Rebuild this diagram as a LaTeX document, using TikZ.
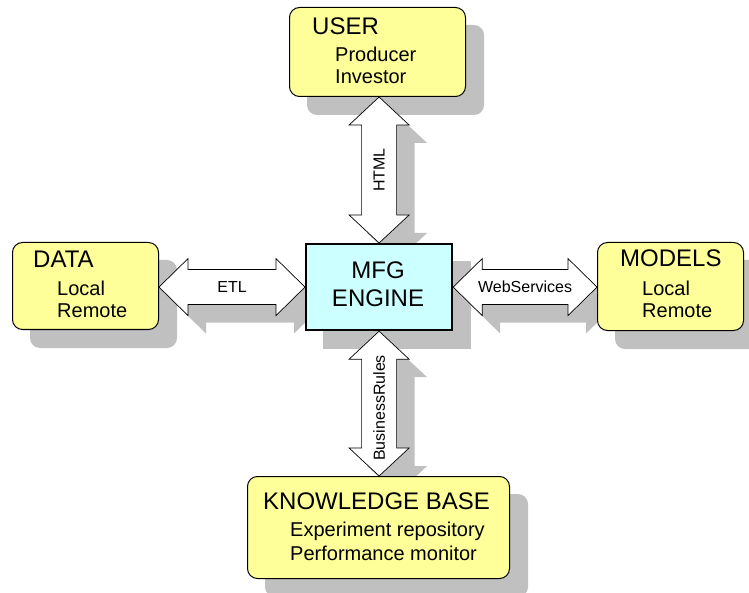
\documentclass[tikz,border=0pt]{standalone}
\usepackage{fontspec}
\setmainfont{Liberation Sans}
\usetikzlibrary{calc}
\pgfdeclarelayer{background}
\pgfsetlayers{background,main}
\definecolor{boxyellow}{HTML}{FFFF99}
\definecolor{enginecyan}{HTML}{CCFFFF}
\definecolor{shadowgray}{HTML}{C0C0C0}
\tikzset{
  box/.style={draw=black, line width=1pt, fill=boxyellow, rounded corners=10pt, inner sep=0pt, anchor=north west},
  engine/.style={draw=black, line width=2.2pt, fill=enginecyan, inner sep=0pt, anchor=north west},
  boxshadow/.style={fill=shadowgray, rounded corners=10pt},
  fatarrow/.style={draw=black, line width=0.7pt, fill=white, line join=miter},
  fatshadow/.style={fill=shadowgray},
  titletext/.style={anchor=base west, font=\fontsize{24}{28}\selectfont, inner sep=0pt},
  itemtext/.style={anchor=base west, font=\fontsize{20}{24}\selectfont, inner sep=0pt},
  enginetext/.style={anchor=base, font=\fontsize{24}{28}\selectfont, inner sep=0pt},
  arrowlabel/.style={font=\fontsize{16}{19}\selectfont, inner sep=0pt},
}
% horizontal double arrow: #1 style, #2 left tip, #3 right tip
\newcommand{\hfatarrow}[3]{%
  \path[#1] (#2) -- ($(#2)+(29,-28.5)$) -- ($(#2)+(29,-17.5)$) -- ($(#3)+(-29,-17.5)$)
    -- ($(#3)+(-29,-28.5)$) -- (#3) -- ($(#3)+(-29,28.5)$) -- ($(#3)+(-29,17.5)$)
    -- ($(#2)+(29,17.5)$) -- ($(#2)+(29,28.5)$) -- cycle;}
% vertical double arrow: #1 style, #2 top tip, #3 bottom tip
\newcommand{\vfatarrow}[3]{%
  \path[#1] (#2) -- ($(#2)+(30,28)$) -- ($(#2)+(17.5,28)$) -- ($(#3)+(17.5,-28)$)
    -- ($(#3)+(30,-28)$) -- (#3) -- ($(#3)+(-30,-28)$) -- ($(#3)+(-17.5,-28)$)
    -- ($(#2)+(-17.5,28)$) -- ($(#2)+(-30,28)$) -- cycle;}
\begin{document}
\begin{tikzpicture}[x=1pt,y=-1pt]
\useasboundingbox (0,0) rectangle (749,593);
\clip (0,0) rectangle (749,593);

% boxes
\node[box, minimum width=176pt, minimum height=89pt] (user) at (289,7) {};
\node[box, minimum width=146pt, minimum height=87pt] (data) at (12,242) {};
\node[box, minimum width=146pt, minimum height=88pt] (models) at (597,242) {};
\node[box, minimum width=262pt, minimum height=102pt] (kb) at (247,476) {};
\node[engine, minimum width=146pt, minimum height=86pt] (mfg) at (305,243) {};

% arrow end points
\coordinate (etlL) at (data.east |- mfg.west);
\coordinate (etlR) at (mfg.west);
\coordinate (wsL) at (mfg.east);
\coordinate (wsR) at (models.west |- mfg.east);
\coordinate (htmlT) at (mfg.north |- user.south);
\coordinate (htmlB) at (mfg.north);
\coordinate (brT) at (mfg.south);
\coordinate (brB) at (mfg.south |- kb.north);

\coordinate (etlLs) at ([shift={(18,18)}]etlL);
\coordinate (etlRs) at ([shift={(18,18)}]etlR);
\coordinate (wsLs) at ([shift={(18,18)}]wsL);
\coordinate (wsRs) at ([shift={(18,18)}]wsR);
\coordinate (htmlTs) at ([shift={(18,18)}]htmlT);
\coordinate (htmlBs) at ([shift={(18,18)}]htmlB);
\coordinate (brTs) at ([shift={(18,18)}]brT);
\coordinate (brBs) at ([shift={(18,18)}]brB);

% shadows
\begin{pgfonlayer}{background}
  \foreach \b in {user,data,models,kb}{
    \fill[boxshadow] ([shift={(18,18)}]\b.north west) rectangle ([shift={(18,18)}]\b.south east);
  }
  \fill[fatshadow] ([shift={(18,18)}]mfg.north west) rectangle ([shift={(18,18)}]mfg.south east);
  \hfatarrow{fatshadow}{etlLs}{etlRs}
  \hfatarrow{fatshadow}{wsLs}{wsRs}
  \vfatarrow{fatshadow}{htmlTs}{htmlBs}
  \vfatarrow{fatshadow}{brTs}{brBs}
\end{pgfonlayer}

% connectors (double block arrows)
\hfatarrow{fatarrow}{etlL}{etlR}
\hfatarrow{fatarrow}{wsL}{wsR}
\vfatarrow{fatarrow}{htmlT}{htmlB}
\vfatarrow{fatarrow}{brT}{brB}

\node[arrowlabel] (etllabel) at ($(etlL)!0.5!(etlR)$) {ETL};
\node[arrowlabel] (wslabel) at ($(wsL)!0.5!(wsR)$) {WebServices};
\node[arrowlabel, rotate=90] (htmllabel) at ($(htmlT)!0.5!(htmlB)$) {HTML};
\node[arrowlabel, rotate=90] (brlabel) at ($(brT)!0.53!(brB)$) {BusinessRules};

% texts
\node[titletext] (usertitle) at (312,35) {USER};
\node[itemtext] (user1) at (335,61.5) {Producer};
\node[itemtext] (user2) at (335,83.5) {Investor};

\node[titletext] (datatitle) at (33,268) {DATA};
\node[itemtext] (data1) at (57,295.5) {Local};
\node[itemtext] (data2) at (57,317.5) {Remote};

\node[titletext] (modelstitle) at (620,267) {MODELS};
\node[itemtext] (models1) at (642,296) {Local};
\node[itemtext] (models2) at (642,318) {Remote};

\node[titletext] (kbtitle) at (263,509) {KNOWLEDGE BASE};
\node[itemtext] (kb1) at (290,536) {Experiment repository};
\node[itemtext] (kb2) at (290,560) {Performance monitor};

\node[enginetext] (mfg1) at (378,279) {MFG};
\node[enginetext] (mfg2) at (378,307) {ENGINE};
\end{tikzpicture}
\end{document}
